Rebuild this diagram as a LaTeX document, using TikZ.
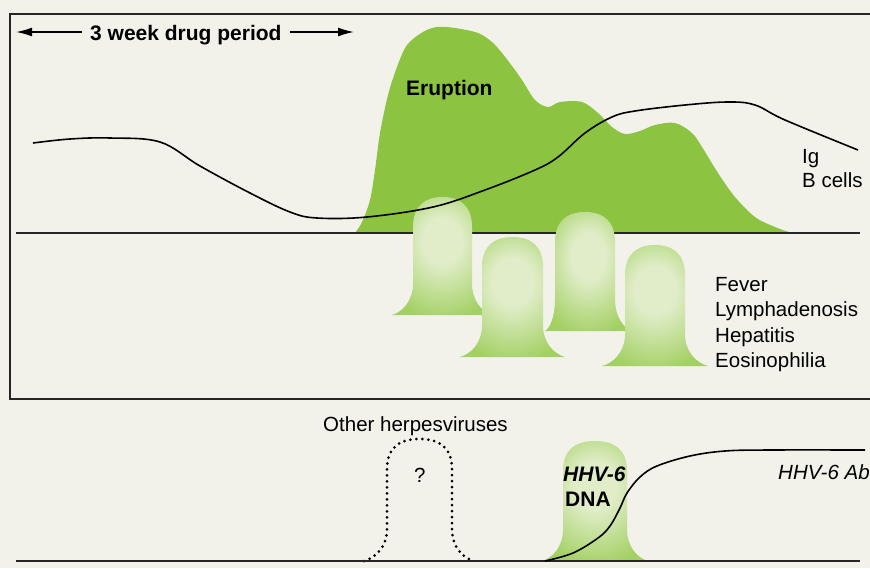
\documentclass[tikz,border=0pt]{standalone}
\usepackage{fontspec}
\setmainfont{Liberation Sans}
\usetikzlibrary{arrows.meta}
\definecolor{paper}{RGB}{242,242,235}
\definecolor{erupt}{RGB}{140,196,66}
\definecolor{bellin}{RGB}{224,237,200}
\definecolor{bellout}{RGB}{162,208,98}
\pgfdeclareradialshading{bellshade}{\pgfpoint{0bp}{8bp}}{color(0bp)=(bellin); color(10bp)=(bellin); color(31bp)=(bellout); color(50bp)=(bellout)}
\newcommand\bellbody[6]{(#5,#4) .. controls ({#1-0.5*(#1-#5)},{#4-3}) and (#1,{#4-14}) .. (#1,{#4-32})
    -- (#1,{#3+30}) .. controls (#1,{#3+9}) and ({#1+12},#3) .. ({(#1+#2)/2},#3)
    .. controls ({#2-12},#3) and (#2,{#3+9}) .. (#2,{#3+30})
    -- (#2,{#4-32}) .. controls (#2,{#4-14}) and ({#2+0.5*(#6-#2)},{#4-3}) .. (#6,#4)}
\newcommand\bellshape[7]{\path[#1] \bellbody{#2}{#3}{#4}{#5}{#6}{#7} -- cycle;}
\newcommand\openbell[7]{\path[#1] \bellbody{#2}{#3}{#4}{#5}{#6}{#7};}
\tikzset{
  rule/.style={line width=1.8pt, black!85},
  curve/.style={line width=1.6pt, black},
  arr/.style={line width=1.6pt, -{Latex[length=16pt,width=9pt]}},
  lbl/.style={inner sep=0pt, anchor=base west, font=\fontsize{20.5}{24}\selectfont},
  blbl/.style={inner sep=0pt, anchor=base west, font=\fontsize{21}{25}\selectfont\bfseries},
  bellfill/.style={shading=bellshade},
  dotbell/.style={draw, line width=3pt, dash pattern=on 0pt off 6pt, line cap=round}
}
\begin{document}
\begin{tikzpicture}[x=1pt,y=-1pt]
\fill[paper] (0,0) rectangle (870,568);
\useasboundingbox (0,0) rectangle (870,568);

% Eruption
\fill[erupt] plot[smooth, tension=0.55] coordinates {(355,233) (362,222) (370,200) (375,170) (380,133) (388,95) (397,67) (407,45) (423,32) (437,27) (455,28) (478,33) (492,42) (502,53) (512,66) (522,80) (535,100) (548,107) (560,102) (582,102) (598,113) (612,127) (625,134) (640,131) (655,125) (675,123) (692,133) (702,147) (718,173) (735,197) (755,217) (775,227) (792,233)} -- cycle;

% middle rule
\draw[rule] (16,233) -- (860,233);

% symptom bells
\bellshape{bellfill}{413}{472}{197}{315}{392}{492}
\bellshape{bellfill}{555}{615}{212}{331}{545}{632}
\bellshape{bellfill}{482}{543}{237}{357}{460}{565}
\bellshape{bellfill}{625}{685}{245}{366}{602}{708}

% Ig / B cells curve
\draw[curve] plot[smooth, tension=0.6] coordinates {(33,143) (70,139) (110,138) (160,142) (200,166) (250,193) (290,212) (317,218) (367,217) (433,207) (485,190) (535,170) (558,157) (585,133) (612,117) (635,111) (685,105) (728,102) (755,105) (785,120) (858,150)};

% frame
\draw[rule] (870,14) -- (10,14) -- (10,399) -- (870,399);

% drug period
\node[blbl, inner xsep=8pt] (period) at (82,40) {3 week drug period};
\coordinate (aL) at (16,32);
\coordinate (aR) at (354,32);
\draw[arr] (aL -| period.west) -- (aL);
\draw[arr] (aR -| period.east) -- (aR);

\node[blbl] (erup) at (406,95) {Eruption};
\node[lbl] (ig) at (802,163) {Ig};
\node[lbl] (bcell) at (802,187) {B cells};
\node[lbl] (fever) at (715,291) {Fever};
\node[lbl] (lymph) at (715,316) {Lymphadenosis};
\node[lbl] (hep) at (715,342) {Hepatitis};
\node[lbl] (eos) at (715,367) {Eosinophilia};

% bottom panel
\node[lbl] (other) at (323,431) {Other herpesviruses};
\openbell{dotbell}{387}{452}{439}{561}{364}{474}
\node[lbl] (q) at (414,482) {?};

\bellshape{bellfill}{563}{627}{441}{561}{542}{648}
\draw[rule] (16,561) -- (860,561);
\draw[curve] plot[smooth, tension=0.6] coordinates {(545,561) (573,553) (598,538) (610,526) (620,508) (627,493) (640,477) (657,466) (690,456) (725,451) (770,450) (865,450)};

\node[blbl, font=\fontsize{21}{25}\selectfont\bfseries\itshape] (hhv) at (563,481) {HHV-6};
\node[blbl] (dna) at (565,506) {DNA};
\node[lbl, font=\fontsize{20.5}{24}\selectfont\itshape] (ab) at (778,479) {HHV-6 Ab};
\end{tikzpicture}
\end{document}
